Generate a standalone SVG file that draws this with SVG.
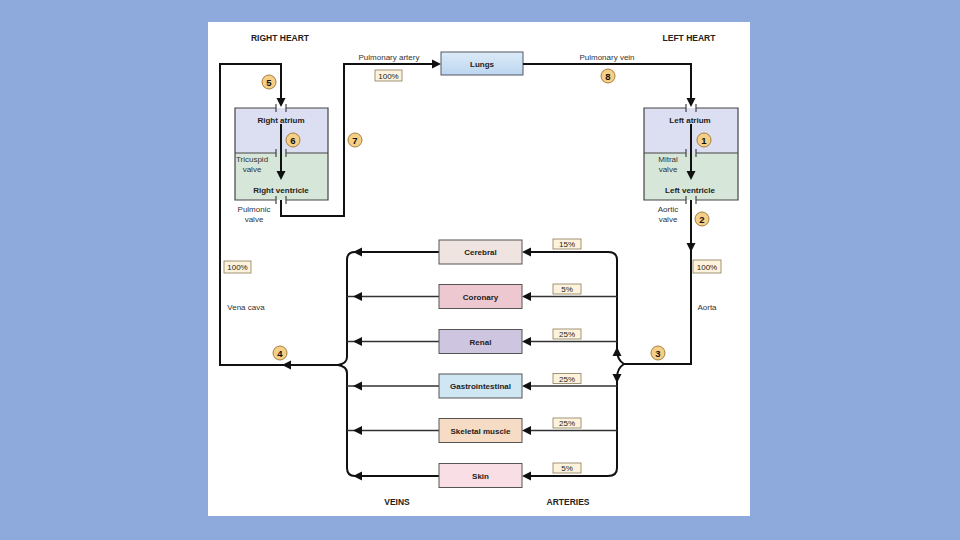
<svg xmlns="http://www.w3.org/2000/svg" width="960" height="540" viewBox="0 0 960 540">
<style>
text{font-family:"Liberation Sans",Arial,sans-serif;font-size:8px;fill:#222;text-anchor:middle}
.b{font-weight:bold}
.h{font-weight:bold;font-size:8.5px}
.heavy{fill:none;stroke:#111;stroke-width:2}
.row{fill:none;stroke:#333;stroke-width:1.6}
.edge{fill:none;stroke:#444;stroke-width:1.2}
.org{stroke:#555;stroke-width:1}
.pct{fill:#fdf3dc;stroke:#8a7a5a;stroke-width:0.8}
.badge{fill:#f6cf86;stroke:#9a7434;stroke-width:0.9}
.bt{font-weight:bold;font-size:9.5px;fill:#111}
.lbl{fill:#333}
</style>
<defs>
<path id="ah" d="M0,0 L-9,-4.5 L-9,4.5 Z" fill="#111"/>
<linearGradient id="lg" x1="0" y1="0" x2="0" y2="1"><stop offset="0" stop-color="#dcebf8"/><stop offset="1" stop-color="#bcd6ef"/></linearGradient>
</defs>
<rect width="960" height="540" fill="#8eaadc"/>
<rect x="208" y="22" width="542" height="494" fill="#fff"/>

<text class="h" x="280" y="41">RIGHT HEART</text>
<text class="h" x="689" y="41">LEFT HEART</text>

<g id="right-heart">
<rect x="235" y="108" width="93" height="45" fill="#dcdef1"/>
<rect x="235" y="153" width="93" height="47" fill="#d6e7d9"/>
<path class="edge" d="M276,108 L235,108 L235,200 L276,200 M286,108 L328,108 L328,200 L286,200 M235,153 L276,153 M286,153 L328,153 M276,104 L276,112 M286,104 L286,112 M276,149 L276,157 M286,149 L286,157 M276,196 L276,204 M286,196 L286,204"/>
<text class="b" x="281" y="123">Right atrium</text>
<text class="b" x="281" y="193">Right ventricle</text>
<text class="lbl" x="252" y="162">Tricuspid</text>
<text class="lbl" x="252" y="172">valve</text>
<text class="lbl" x="254" y="212">Pulmonic</text>
<text class="lbl" x="254" y="222">valve</text>
</g>

<g id="left-heart">
<rect x="644" y="108" width="94" height="45" fill="#dcdef1"/>
<rect x="644" y="153" width="94" height="47" fill="#d6e7d9"/>
<path class="edge" d="M686,108 L644,108 L644,200 L686,200 M696,108 L738,108 L738,200 L696,200 M644,153 L686,153 M696,153 L738,153 M686,104 L686,112 M696,104 L696,112 M686,149 L686,157 M696,149 L696,157 M686,196 L686,204 M696,196 L696,204"/>
<text class="b" x="690" y="123">Left atrium</text>
<text class="b" x="690" y="193">Left ventricle</text>
<text class="lbl" x="668" y="162">Mitral</text>
<text class="lbl" x="668" y="172">valve</text>
<text class="lbl" x="668" y="212">Aortic</text>
<text class="lbl" x="668" y="222">valve</text>
</g>

<g id="lungs">
<rect x="441" y="52" width="82" height="23" fill="url(#lg)" stroke="#556" stroke-width="1"/>
<text class="b" x="482" y="67">Lungs</text>
</g>

<g id="connectors">
<path class="heavy" d="M338,365 L220,365 L220,64 L281,64 L281,102"/>
<use href="#ah" transform="translate(281,107) rotate(90)"/>
<use href="#ah" transform="translate(282,365) rotate(180)"/>
<path class="heavy" d="M281,124 L281,173"/>
<use href="#ah" transform="translate(281,180) rotate(90)"/>
<path class="heavy" d="M281,200 L281,216 L344,216 L344,64 L434,64"/>
<use href="#ah" transform="translate(441,64)"/>
<path class="heavy" d="M523,64 L691,64 L691,102"/>
<use href="#ah" transform="translate(691,107) rotate(90)"/>
<path class="heavy" d="M691,124 L691,173"/>
<use href="#ah" transform="translate(691,180) rotate(90)"/>
<path class="heavy" d="M691,200 L691,364 L624,364"/>
<use href="#ah" transform="translate(691,252) rotate(90)"/>
<path class="heavy" d="M624,364 C619,361 617,356 617,350 L617,260 C617,255 614,252 608,252 L530,252"/>
<path class="heavy" d="M624,364 C619,367 617,372 617,378 L617,468 C617,473 614,476 608,476 L530,476"/>
<use href="#ah" transform="translate(617,347) rotate(-90)"/>
<use href="#ah" transform="translate(617,383) rotate(90)"/>
<path class="row" d="M617,296.5 L530,296.5 M617,341.5 L530,341.5 M617,386 L530,386 M617,430.5 L530,430.5"/>
<use href="#ah" transform="translate(522,252) rotate(180)"/>
<use href="#ah" transform="translate(522,296.5) rotate(180)"/>
<use href="#ah" transform="translate(522,341.5) rotate(180)"/>
<use href="#ah" transform="translate(522,386) rotate(180)"/>
<use href="#ah" transform="translate(522,430.5) rotate(180)"/>
<use href="#ah" transform="translate(522,476) rotate(180)"/>
<path class="heavy" d="M439,252 L355,252 C350,252 347,255 347,260 L347,357 C347,361 344,364 338,365"/>
<path class="heavy" d="M439,476 L355,476 C350,476 347,473 347,468 L347,373 C347,369 344,366 338,365"/>
<path class="row" d="M439,296.5 L347,296.5 M439,341.5 L347,341.5 M439,386 L347,386 M439,430.5 L347,430.5"/>
<use href="#ah" transform="translate(353,252) rotate(180)"/>
<use href="#ah" transform="translate(353,296.5) rotate(180)"/>
<use href="#ah" transform="translate(353,341.5) rotate(180)"/>
<use href="#ah" transform="translate(353,386) rotate(180)"/>
<use href="#ah" transform="translate(353,430.5) rotate(180)"/>
<use href="#ah" transform="translate(353,476) rotate(180)"/>
</g>

<g id="labels">
<text class="lbl" x="389" y="60">Pulmonary artery</text>
<rect class="pct" x="375" y="70" width="27" height="11"/>
<text x="388.5" y="78.5">100%</text>
<text class="lbl" x="607" y="60">Pulmonary vein</text>
<rect class="pct" x="224" y="261" width="27" height="12"/>
<text x="237.5" y="270">100%</text>
<text class="lbl" x="246" y="310">Vena cava</text>
<rect class="pct" x="693" y="260" width="28" height="13"/>
<text x="707" y="269.5">100%</text>
<text class="lbl" x="707" y="310">Aorta</text>
<text class="h" x="397" y="505">VEINS</text>
<text class="h" x="568" y="505">ARTERIES</text>
</g>

<g id="badges">
<circle class="badge" cx="269" cy="82" r="7"/><text class="bt" x="269" y="85.5">5</text>
<circle class="badge" cx="293" cy="140" r="7"/><text class="bt" x="293" y="143.5">6</text>
<circle class="badge" cx="355" cy="140" r="7"/><text class="bt" x="355" y="143.5">7</text>
<circle class="badge" cx="608" cy="76" r="7"/><text class="bt" x="608" y="79.5">8</text>
<circle class="badge" cx="704" cy="140" r="7"/><text class="bt" x="704" y="143.5">1</text>
<circle class="badge" cx="702" cy="219" r="7"/><text class="bt" x="702" y="222.5">2</text>
<circle class="badge" cx="658" cy="353" r="7"/><text class="bt" x="658" y="356.5">3</text>
<circle class="badge" cx="280" cy="353" r="7"/><text class="bt" x="280" y="356.5">4</text>
</g>

<g id="cerebral">
<rect class="org" x="439" y="240" width="83" height="24" fill="#efe4e0"/>
<text class="b" x="480.5" y="255">Cerebral</text>
<rect class="pct" x="553" y="239" width="28" height="10"/><text x="567" y="247">15%</text>
</g>
<g id="coronary">
<rect class="org" x="439" y="284.5" width="83" height="24" fill="#eec8d0"/>
<text class="b" x="480.5" y="299.5">Coronary</text>
<rect class="pct" x="553" y="284" width="28" height="10"/><text x="567" y="292">5%</text>
</g>
<g id="renal">
<rect class="org" x="439" y="329.5" width="83" height="24" fill="#cec5e0"/>
<text class="b" x="480.5" y="344.5">Renal</text>
<rect class="pct" x="553" y="329" width="28" height="10"/><text x="567" y="337">25%</text>
</g>
<g id="gastrointestinal">
<rect class="org" x="439" y="374" width="83" height="24" fill="#cfe6f3"/>
<text class="b" x="480.5" y="389">Gastrointestinal</text>
<rect class="pct" x="553" y="373.5" width="28" height="10"/><text x="567" y="381.5">25%</text>
</g>
<g id="skeletal-muscle">
<rect class="org" x="439" y="418.5" width="83" height="24" fill="#f6dcc4"/>
<text class="b" x="480.5" y="433.5">Skeletal muscle</text>
<rect class="pct" x="553" y="418" width="28" height="10"/><text x="567" y="426">25%</text>
</g>
<g id="skin">
<rect class="org" x="439" y="463.5" width="83" height="24" fill="#f9dee6"/>
<text class="b" x="480.5" y="478.5">Skin</text>
<rect class="pct" x="553" y="463" width="28" height="10"/><text x="567" y="471">5%</text>
</g>
</svg>
